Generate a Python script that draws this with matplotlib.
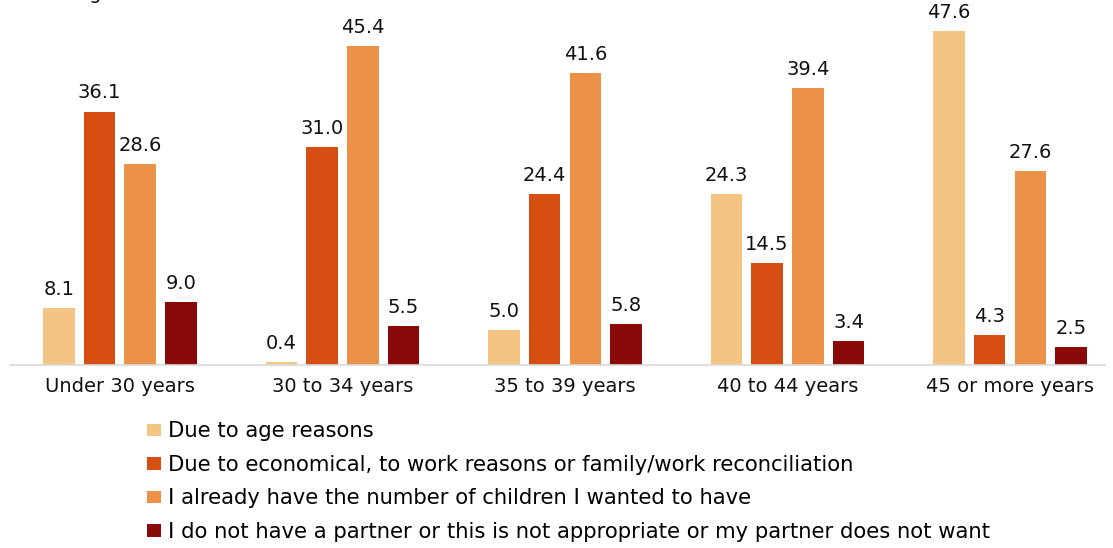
import matplotlib.pyplot as plt
import numpy as np
from matplotlib.patches import Patch

plt.rcParams["font.family"] = ["DejaVu Sans"]

age_groups = ["Under 30 years", "30 to 34 years", "35 to 39 years",
              "40 to 44 years", "45 or more years"]
reasons = [
    "Due to age reasons",
    "Due to economical, to work reasons or family/work reconciliation",
    "I already have the number of children I wanted to have",
    "I do not have a partner or this is not appropriate or my partner does not want",
]
age_reasons = [8.1, 0.4, 5.0, 24.3, 47.6]
economic_reasons = [36.1, 31.0, 24.4, 14.5, 4.3]
enough_children = [28.6, 45.4, 41.6, 39.4, 27.6]
partner_reasons = [9.0, 5.5, 5.8, 3.4, 2.5]

colors = ["#F4C482", "#D64E12", "#EC9248", "#8A0A0A"]
series = [age_reasons, economic_reasons, enough_children, partner_reasons]

fig = plt.figure(figsize=(11.13, 5.48), dpi=100)
ax = fig.add_axes([10 / 1113, 183 / 548, 1095 / 1113, 365 / 548])

x = np.arange(len(age_groups))
step = 0.183
width = 0.142
for i, (vals, col) in enumerate(zip(series, colors)):
    pos = x + (i - 1.5) * step
    bars = ax.bar(pos, vals, width=width, color=col, label=reasons[i])
    for b, v in zip(bars, vals):
        ax.annotate(f"{v:.1f}", (b.get_x() + b.get_width() / 2, v),
                    textcoords="offset points", xytext=(0, 9.5),
                    ha="center", va="baseline", fontsize=14, color="#111111")

ax.set_xlim(-0.494, 4.427)
ax.set_ylim(0, 52)
ax.set_xticks(x)
ax.set_xticklabels(age_groups, fontsize=14, color="#111111")
ax.tick_params(axis="x", length=0, pad=9)
ax.set_yticks([])
for side in ["top", "right", "left"]:
    ax.spines[side].set_visible(False)
ax.spines["bottom"].set_color("#d9d9d9")
ax.spines["bottom"].set_linewidth(1.2)

# axis title sits mostly above the visible area
fig.text(4 / 1113, 1 + 1 / 548, "Percentage", fontsize=14,
         ha="left", va="baseline", color="#111111")

handles = [Patch(facecolor=c, label=r) for c, r in zip(colors, reasons)]
fig.legend(handles=handles, loc="upper left",
           bbox_to_anchor=(139 / 1113, 1 - 413 / 548),
           frameon=False, fontsize=15.2, handlelength=0.65, handleheight=0.55,
           handletextpad=0.3, labelspacing=0.64, borderaxespad=0)

fig.savefig("out.png", dpi=100)
